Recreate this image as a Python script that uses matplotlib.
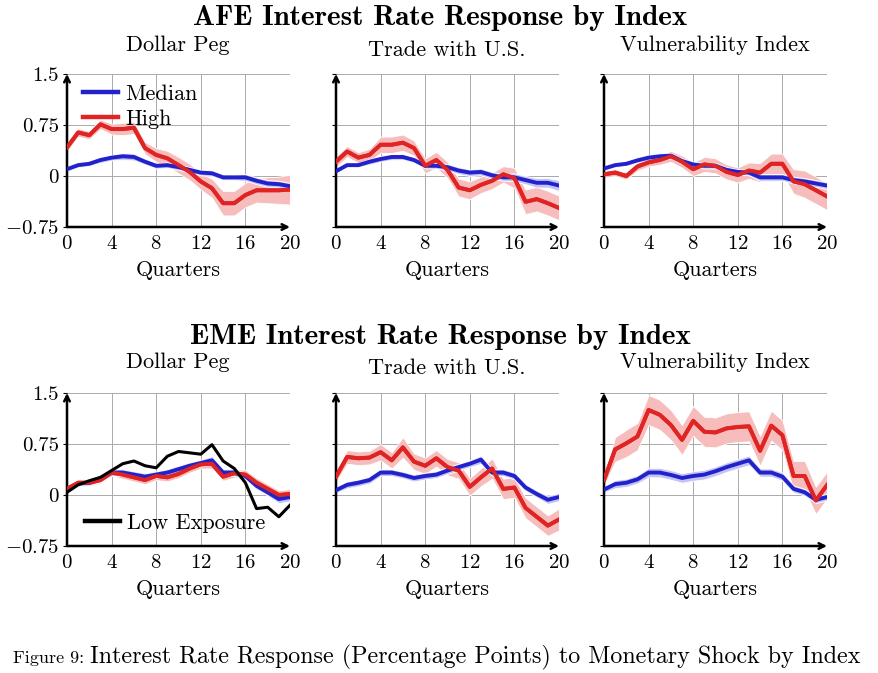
import matplotlib
matplotlib.use('Agg')
import matplotlib.pyplot as plt
import numpy as np

plt.rcParams['font.family'] = ['cmr10', 'DejaVu Serif']
plt.rcParams['mathtext.fontset'] = 'cm'
plt.rcParams['axes.formatter.use_mathtext'] = True

quarters = np.arange(21)

# AFE - Dollar Peg
afe_peg_median = [0.10, 0.16, 0.18, 0.235, 0.27, 0.29, 0.28, 0.21, 0.15, 0.16, 0.13,
                  0.09, 0.05, 0.04, -0.02, -0.02, -0.02, -0.07, -0.11, -0.12, -0.15]
afe_peg_median_band = [0.03, 0.03, 0.03, 0.04, 0.04, 0.05, 0.05, 0.04, 0.04, 0.04, 0.04,
                       0.04, 0.04, 0.04, 0.04, 0.04, 0.05, 0.05, 0.05, 0.05, 0.05]
afe_peg_high = [0.42, 0.64, 0.60, 0.76, 0.69, 0.69, 0.71, 0.41, 0.31, 0.26, 0.16,
                0.06, -0.08, -0.18, -0.40, -0.40, -0.28, -0.21, -0.21, -0.21, -0.20]
afe_peg_high_band = [0.06, 0.06, 0.06, 0.07, 0.08, 0.09, 0.09, 0.09, 0.10, 0.11, 0.12,
                     0.12, 0.12, 0.14, 0.18, 0.18, 0.18, 0.18, 0.19, 0.20, 0.22]

# AFE - Trade with U.S.
afe_trade_median = [0.07, 0.16, 0.16, 0.21, 0.25, 0.28, 0.28, 0.235, 0.15, 0.15, 0.13,
                    0.08, 0.05, 0.06, 0.01, -0.02, -0.02, -0.06, -0.10, -0.10, -0.14]
afe_trade_median_band = [0.03, 0.03, 0.03, 0.04, 0.04, 0.04, 0.04, 0.04, 0.04, 0.04, 0.05,
                         0.05, 0.05, 0.05, 0.05, 0.05, 0.06, 0.06, 0.07, 0.07, 0.08]
afe_trade_high = [0.21, 0.36, 0.27, 0.31, 0.46, 0.46, 0.49, 0.41, 0.15, 0.235, 0.09,
                  -0.17, -0.21, -0.13, -0.07, 0.025, -0.03, -0.38, -0.34, -0.40, -0.47]
afe_trade_high_band = [0.08, 0.08, 0.08, 0.09, 0.12, 0.12, 0.12, 0.11, 0.11, 0.12, 0.12,
                       0.13, 0.13, 0.12, 0.12, 0.12, 0.15, 0.18, 0.18, 0.18, 0.18]

# AFE - Vulnerability Index
afe_vuln_median = [0.11, 0.16, 0.18, 0.23, 0.27, 0.29, 0.30, 0.22, 0.17, 0.15, 0.15,
                   0.09, 0.06, 0.05, -0.02, -0.02, -0.02, -0.06, -0.08, -0.11, -0.14]
afe_vuln_median_band = [0.03, 0.03, 0.03, 0.03, 0.04, 0.04, 0.04, 0.04, 0.04, 0.04, 0.04,
                        0.04, 0.04, 0.04, 0.05, 0.05, 0.05, 0.05, 0.05, 0.05, 0.05]
afe_vuln_high = [0.025, 0.05, 0.00, 0.14, 0.20, 0.235, 0.29, 0.21, 0.10, 0.17, 0.15,
                 0.06, 0.015, 0.08, 0.05, 0.18, 0.18, -0.08, -0.12, -0.21, -0.30]
afe_vuln_high_band = [0.05, 0.05, 0.05, 0.06, 0.06, 0.07, 0.08, 0.09, 0.10, 0.11, 0.11,
                      0.11, 0.11, 0.12, 0.14, 0.15, 0.15, 0.18, 0.20, 0.20, 0.20]

# EME - Dollar Peg
eme_peg_median = [0.09, 0.17, 0.18, 0.23, 0.33, 0.33, 0.30, 0.27, 0.30, 0.33, 0.38,
                  0.43, 0.47, 0.51, 0.33, 0.33, 0.28, 0.135, 0.04, -0.06, -0.03]
eme_peg_median_band = [0.04, 0.04, 0.04, 0.04, 0.05, 0.05, 0.05, 0.05, 0.05, 0.05, 0.05,
                       0.05, 0.05, 0.06, 0.05, 0.05, 0.05, 0.05, 0.05, 0.06, 0.06]
eme_peg_high = [0.09, 0.18, 0.18, 0.22, 0.33, 0.30, 0.26, 0.22, 0.28, 0.26, 0.31,
                0.39, 0.45, 0.46, 0.27, 0.32, 0.30, 0.18, 0.09, 0.00, 0.015]
eme_peg_high_band = [0.05, 0.05, 0.05, 0.05, 0.05, 0.06, 0.06, 0.06, 0.06, 0.06, 0.06,
                     0.06, 0.06, 0.07, 0.06, 0.06, 0.07, 0.07, 0.07, 0.07, 0.07]
eme_peg_low = [0.04, 0.15, 0.21, 0.26, 0.36, 0.46, 0.50, 0.43, 0.40, 0.57, 0.64,
               0.62, 0.60, 0.74, 0.50, 0.39, 0.18, -0.20, -0.18, -0.32, -0.15]

# EME - Trade with U.S.
eme_trade_median = [0.07, 0.15, 0.18, 0.22, 0.33, 0.33, 0.295, 0.25, 0.28, 0.30, 0.36,
                    0.41, 0.46, 0.52, 0.33, 0.33, 0.28, 0.11, 0.015, -0.07, -0.03]
eme_trade_median_band = [0.04, 0.05, 0.05, 0.05, 0.05, 0.05, 0.05, 0.05, 0.05, 0.05, 0.05,
                         0.05, 0.05, 0.06, 0.05, 0.05, 0.05, 0.05, 0.05, 0.06, 0.06]
eme_trade_high = [0.27, 0.56, 0.54, 0.55, 0.63, 0.51, 0.70, 0.49, 0.43, 0.54, 0.41,
                  0.36, 0.12, 0.26, 0.39, 0.09, 0.11, -0.19, -0.32, -0.45, -0.36]
eme_trade_high_band = [0.08, 0.10, 0.10, 0.10, 0.12, 0.12, 0.15, 0.12, 0.12, 0.12, 0.12,
                       0.12, 0.13, 0.13, 0.15, 0.15, 0.15, 0.15, 0.15, 0.15, 0.16]

# EME - Vulnerability Index
eme_vuln_median = [0.08, 0.16, 0.18, 0.23, 0.33, 0.33, 0.295, 0.25, 0.28, 0.30, 0.35,
                   0.41, 0.46, 0.51, 0.33, 0.33, 0.27, 0.09, 0.04, -0.07, -0.03]
eme_vuln_median_band = [0.04, 0.06, 0.06, 0.06, 0.07, 0.07, 0.07, 0.07, 0.07, 0.07, 0.07,
                        0.07, 0.07, 0.07, 0.06, 0.06, 0.06, 0.05, 0.05, 0.05, 0.05]
eme_vuln_high = [0.22, 0.67, 0.76, 0.86, 1.25, 1.18, 1.03, 0.81, 1.09, 0.93, 0.92,
                 0.98, 1.00, 1.01, 0.65, 1.02, 0.88, 0.28, 0.28, -0.08, 0.145]
eme_vuln_high_band = [0.08, 0.18, 0.20, 0.20, 0.22, 0.22, 0.22, 0.22, 0.22, 0.22, 0.22,
                      0.22, 0.22, 0.22, 0.22, 0.22, 0.22, 0.22, 0.22, 0.20, 0.20]

panel_titles = ['Dollar Peg', 'Trade with U.S.', 'Vulnerability Index']
x_ticks = [0, 4, 8, 12, 16, 20]
y_ticks = [-0.75, 0, 0.75, 1.5]
y_tick_labels = ['$-0.75$', '0', '0.75', '1.5']

BLUE = '#2222cc'
RED = '#e02424'
BLUE_FILL = '#c4c4f4'
RED_FILL = '#f7bcbc'

W, H = 879, 673
fig = plt.figure(figsize=(W / 100, H / 100), dpi=100)


def px_box(left, top, right, bottom):
    return [left / W, 1 - bottom / H, (right - left) / W, (bottom - top) / H]


def style_axes(ax, show_y):
    ax.set_xlim(0, 20)
    ax.set_ylim(-0.75, 1.5)
    ax.set_xticks(x_ticks)
    ax.set_yticks(y_ticks)
    ax.set_yticklabels(y_tick_labels if show_y else [])
    ax.grid(True, color='#aaaaaa', lw=0.7)
    ax.set_axisbelow(True)
    for s in ax.spines.values():
        s.set_visible(False)
    ax.tick_params(axis='x', length=0, pad=6, labelsize=15)
    ax.tick_params(axis='y', length=3, width=0.8, pad=3, labelsize=15)
    ax.annotate('', xy=(1.0, 0), xytext=(0, 0), xycoords='axes fraction',
                arrowprops=dict(arrowstyle='->', lw=1.8, color='black',
                                shrinkA=0, shrinkB=0))
    ax.annotate('', xy=(0, 1.0), xytext=(0, 0), xycoords='axes fraction',
                arrowprops=dict(arrowstyle='->', lw=1.8, color='black',
                                shrinkA=0, shrinkB=0))
    ax.set_xlabel('Quarters', fontsize=16, labelpad=5)


def draw_series(ax, y, band, color, fill):
    y = np.array(y)
    band = np.array(band)
    ax.fill_between(quarters, y - band, y + band, color=fill, lw=0.6,
                    edgecolor='white', zorder=2)
    ax.plot(quarters, y, color=color, lw=2.8, zorder=3)


rows = [
    [(afe_peg_median, afe_peg_median_band, afe_peg_high, afe_peg_high_band),
     (afe_trade_median, afe_trade_median_band, afe_trade_high, afe_trade_high_band),
     (afe_vuln_median, afe_vuln_median_band, afe_vuln_high, afe_vuln_high_band)],
    [(eme_peg_median, eme_peg_median_band, eme_peg_high, eme_peg_high_band),
     (eme_trade_median, eme_trade_median_band, eme_trade_high, eme_trade_high_band),
     (eme_vuln_median, eme_vuln_median_band, eme_vuln_high, eme_vuln_high_band)],
]
lefts = [67, 336, 604]
tops = [74, 393]

for r, row in enumerate(rows):
    for c, (med, med_b, high, high_b) in enumerate(row):
        ax = fig.add_axes(px_box(lefts[c], tops[r], lefts[c] + 223, tops[r] + 153))
        style_axes(ax, c == 0)
        draw_series(ax, high, high_b, RED, RED_FILL)
        draw_series(ax, med, med_b, BLUE, BLUE_FILL)
        # red line back on top of the blue band
        ax.plot(quarters, high, color=RED, lw=2.8, zorder=4)
        if r == 0 and c == 0:
            h1, = ax.plot([], [], color=BLUE, lw=3.2, label='Median')
            h2, = ax.plot([], [], color=RED, lw=3.2, label='High')
            ax.legend(handles=[h1, h2], loc='upper left', frameon=False,
                      fontsize=16, handlelength=1.6, handletextpad=0.3,
                      labelspacing=0.25, borderaxespad=0.0,
                      bbox_to_anchor=(0.03, 0.99))
        if r == 1 and c == 0:
            ax.plot(quarters, eme_peg_low, color='black', lw=2.2, zorder=5)
            h3, = ax.plot([], [], color='black', lw=3.2, label='Low Exposure')
            ax.legend(handles=[h3], loc='lower left', frameon=False,
                      fontsize=16, handlelength=1.6, handletextpad=0.3,
                      borderaxespad=0.2, bbox_to_anchor=(0.02, 0.0))

# titles
fig.text(440 / W, 1 - 18 / H, 'AFE Interest Rate Response by Index',
         family='cmb10', fontsize=21, ha='center', va='center')
fig.text(440 / W, 1 - 337 / H, 'EME Interest Rate Response by Index',
         family='cmb10', fontsize=21, ha='center', va='center')
sub_y = [(45, 50, 45), (362, 368, 362)]
for r in range(2):
    for c in range(3):
        fig.text((lefts[c] + 111) / W, 1 - sub_y[r][c] / H, panel_titles[c],
                 fontsize=16, ha='center', va='center')

fig.text(13 / W, 1 - 663 / H, 'Figure 9:', fontsize=13, ha='left', va='baseline')
fig.text(90 / W, 1 - 663 / H,
         'Interest Rate Response (Percentage Points) to Monetary Shock by Index',
         fontsize=17.3, ha='left', va='baseline')

fig.savefig('out.png', dpi=100)
